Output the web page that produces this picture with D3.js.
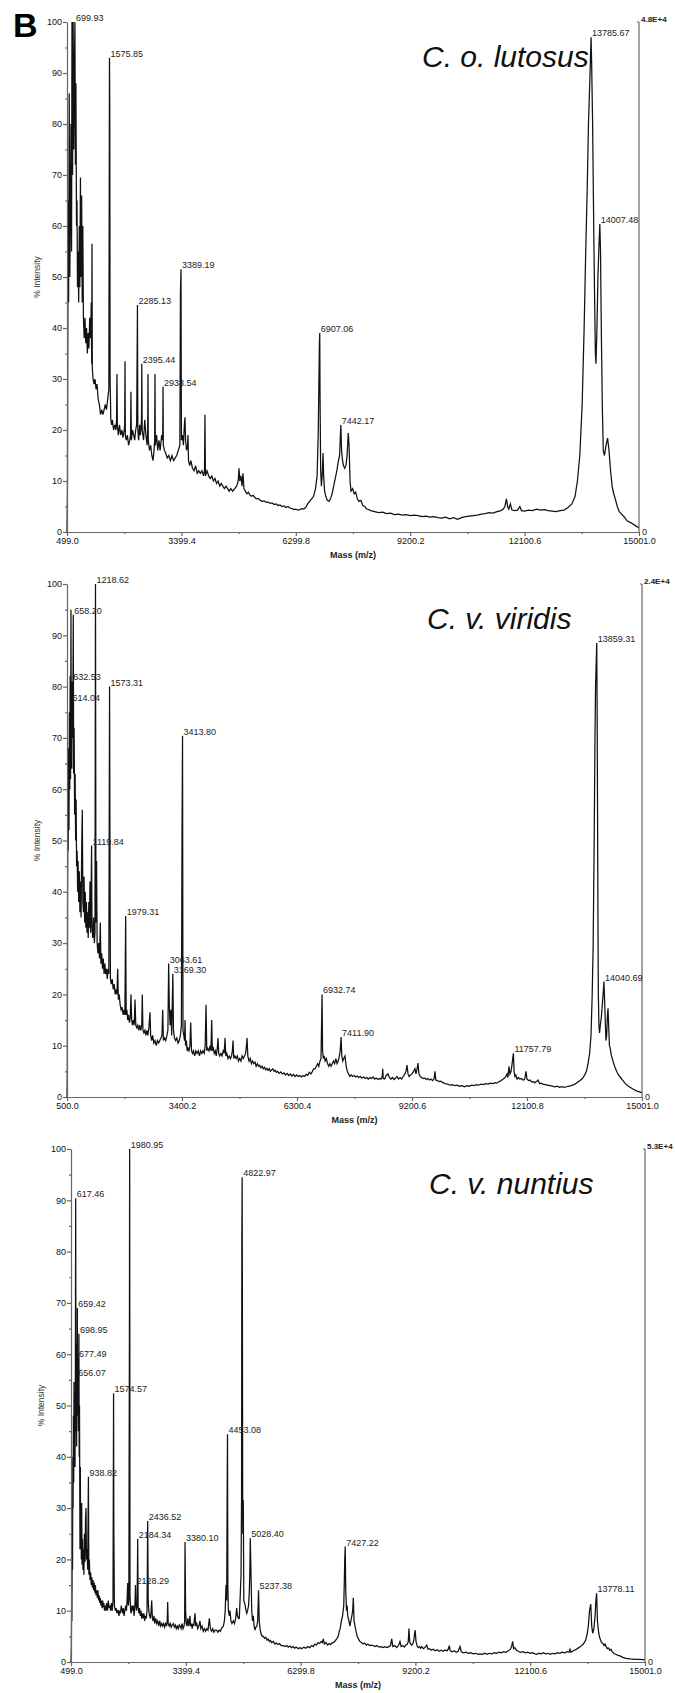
<!DOCTYPE html>
<html><head><meta charset="utf-8">
<script src="https://cdn.jsdelivr.net/npm/d3@7"></script>
<style>
body{margin:0;background:#fff;}
svg text{font-family:"Liberation Sans",Arial,Helvetica,sans-serif;}
</style></head><body>
<svg id="chart" width="675" height="1693"></svg>
<script>
// ---------------- DATA ----------------
const titles = ["C. o. lutosus", "C. v. viridis", "C. v. nuntius"];
const rightAxisLabels = ["4.8E+4", "2.4E+4", "5.3E+4"];
const yTicks = [0,10,20,30,40,50,60,70,80,90,100];
const yMinorTicks = [5,15,25,35,45,55,65,75,85,95];
const xTicksLutosus = [499.0, 3399.4, 6299.8, 9200.2, 12100.6, 15001.0];
const xTicksViridis = [500.0, 3400.2, 6300.4, 9200.6, 12100.8, 15001.0];
const xTicksNuntius = [499.0, 3399.4, 6299.8, 9200.2, 12100.6, 15001.0];

// [m/z, % intensity]
const lutosusSpectrum = [
[499,0],[510,8],[520,40],[530,65],[540,45],[555,86],[570,50],[585,62],[600,80],[615,55],[625,100],[640,70],[655,100],[670,75],[685,90],[699.93,100],[712,72],[725,88],[740,60],[752,65],[765,48],[780,55],[795,45],[810,60],[825,48],[840,69.5],[855,50],[870,66],[885,45],[900,60],[915,42],[935,38],[955,42],[975,37],[995,40],[1015,35],[1035,39],[1055,36],[1075,42],[1095,38],[1115,45],[1125,33],[1133,56.5],[1141,32],[1160,30],[1185,29],[1210,30],[1235,28],[1260,29],[1290,26],[1320,25],[1350,23],[1380,24],[1410,23],[1440,24],[1470,25],[1500,24],[1530,26],[1560,28],[1575.85,93],[1583,83],[1592,30],[1610,22],[1630,21],[1650,22],[1680,20],[1710,21],[1740,20],[1755,22],[1766,31],[1775,21],[1800,19],[1830,21],[1860,19],[1890,20],[1920,18.5],[1950,20],[1962,21],[1970,33.5],[1978,19],[2000,18],[2030,19],[2060,17],[2090,18],[2110,19],[2120,27.5],[2130,18],[2160,20],[2190,19],[2215,18],[2240,20],[2265,21],[2285.13,44.5],[2295,20],[2315,18],[2340,21],[2360,19],[2380,21],[2388,22],[2395.44,33],[2405,20],[2440,18],[2470,22],[2500,19],[2530,17],[2545,20],[2552,31],[2560,18],[2590,16],[2620,17],[2650,15],[2680,14],[2705,16],[2722,18],[2730,31],[2738,17],[2770,19],[2800,16],[2830,18],[2860,16],[2900,19],[2925,18],[2933.54,28.5],[2941,17],[2970,16],[3000,15.5],[3040,14.5],[3080,15],[3120,14],[3160,15],[3200,14],[3240,14.5],[3280,15],[3320,16],[3360,17],[3375,47],[3389.19,51.5],[3400,18],[3425,19],[3450,17],[3475,21],[3490,22.5],[3505,18],[3530,16],[3555,17],[3566,19],[3580,14],[3610,13],[3640,14],[3680,12.5],[3720,12],[3760,13],[3800,11.5],[3840,12],[3880,11.5],[3920,12],[3960,11],[3985,12],[3997,23],[4009,11],[4050,12],[4090,11],[4130,10.5],[4170,11],[4210,10],[4250,10.5],[4290,9.5],[4330,10],[4370,9],[4410,9.5],[4450,9],[4490,8.5],[4530,9],[4570,8.5],[4610,8],[4650,8.5],[4700,8],[4750,8.5],[4800,9],[4840,10],[4860,12.5],[4880,10],[4910,11],[4935,9],[4960,11.5],[4985,8.5],[5020,8],[5060,7.5],[5100,7.8],[5140,7.2],[5180,7],[5220,7.2],[5260,6.8],[5300,6.5],[5350,6.6],[5400,6.2],[5450,6],[5500,6.1],[5550,5.8],[5600,5.9],[5650,5.6],[5700,5.7],[5750,5.4],[5800,5.5],[5850,5.2],[5900,5.3],[5950,5],[6000,5.1],[6050,4.8],[6100,5],[6150,4.7],[6200,4.6],[6250,4.4],[6300,4.5],[6350,4.3],[6400,4.4],[6450,4.6],[6500,4.5],[6550,4.8],[6600,5.5],[6650,6],[6700,6.5],[6750,7],[6800,8.5],[6840,11],[6870,20],[6898,37],[6907.06,39],[6915,26],[6930,12],[6950,9],[6975,12],[6990,15.5],[7005,11],[7030,8],[7060,7],[7100,6.2],[7140,6],[7180,6.5],[7220,7.5],[7260,9],[7300,10.5],[7340,12],[7370,13.5],[7410,15],[7442.17,21],[7460,16],[7485,14],[7510,13],[7540,12.5],[7570,13],[7600,15],[7630,19.4],[7650,17],[7675,10],[7700,8],[7740,8.5],[7780,7.5],[7820,7.8],[7860,6.5],[7900,6],[7950,6.2],[8000,5.2],[8050,5],[8100,4.5],[8150,4.4],[8200,4.2],[8300,4],[8400,3.8],[8500,3.9],[8600,3.6],[8700,3.7],[8800,3.4],[8900,3.5],[9000,3.3],[9100,3.4],[9200,3.2],[9300,3.3],[9400,3.2],[9500,3],[9600,3.1],[9700,2.9],[9800,3],[9900,2.8],[10000,2.7],[10100,2.9],[10200,2.6],[10300,2.8],[10400,2.5],[10500,2.8],[10600,3],[10700,3.1],[10800,3.2],[10900,3.3],[11000,3.5],[11100,3.6],[11200,3.8],[11300,3.7],[11400,4],[11500,4.2],[11560,4.5],[11600,5],[11640,6.5],[11670,5],[11700,4.5],[11740,5.5],[11780,4.3],[11850,4.2],[11920,4.3],[11980,5],[12020,4.2],[12100,4.1],[12200,4.3],[12300,4.2],[12400,4.5],[12500,4.3],[12600,4.4],[12700,4.2],[12800,4.1],[12900,4],[13000,4.2],[13100,4.3],[13200,4.8],[13300,5.5],[13380,7],[13440,10],[13500,15],[13560,25],[13610,40],[13650,55],[13690,68],[13720,80],[13760,90],[13785.67,97],[13800,92],[13825,80],[13860,55],[13895,35],[13910,33],[13935,40],[13960,50],[13985,56],[14007.48,60.4],[14025,55],[14045,40],[14070,25],[14095,16],[14125,15],[14165,17],[14205,18.4],[14240,16],[14280,12],[14320,9],[14360,7.5],[14400,6.5],[14450,5],[14500,4],[14560,3.5],[14620,3],[14700,2.2],[14800,1.8],[14900,1.3],[15001,0.8]
];
const lutosusPeaks = [
[699.93,100],[1575.85,93],[2285.13,44.5],[2395.44,33],[2933.54,28.5],[3389.19,51.5],[6907.06,39],[7442.17,21],[13785.67,97],[14007.48,60.4]
];

const viridisSpectrum = [
[500,0],[508,5],[515,40],[522,55],[530,48],[540,68],[550,52],[560,75],[570,60],[580,82],[590,62],[600,95],[608,70],[614.04,77],[622,64],[632.53,81],[645,70],[658.2,94],[668,63],[680,72],[692,55],[705,63],[718,50],[730,58],[742,45],[755,48],[768,40],[780,46],[795,38],[810,44],[825,36],[840,42],[855,35],[870,48],[886,56],[900,38],[915,36],[930,43],[945,34],[960,40],[975,33],[990,38],[1005,32],[1020,36],[1035,31],[1050,38],[1065,33],[1080,42],[1095,32],[1108,40],[1119.84,49],[1130,33],[1150,31],[1170,35],[1190,30],[1205,32],[1218.62,100],[1230,34],[1245,46],[1260,30],[1280,28],[1300,30],[1320,27],[1340,34],[1355,26],[1375,28],[1395,25],[1415,27],[1435,24],[1455,26],[1475,24],[1495,25],[1515,23],[1535,25],[1555,24],[1573.31,80],[1585,44],[1595,23],[1615,22],[1640,23],[1665,21],[1690,22],[1715,20],[1740,21],[1760,20],[1778,25],[1795,19],[1815,20],[1840,18],[1865,17],[1890,17.5],[1915,16],[1940,17],[1960,16],[1979.31,35.3],[1992,16],[2010,17],[2030,15],[2050,16],[2075,14.5],[2095,15.5],[2114,20],[2130,15],[2150,14],[2170,15],[2195,14],[2215,19],[2235,14],[2260,13.5],[2285,14],[2310,13],[2335,14],[2360,13],[2385,14],[2399,20],[2415,13],[2440,12.5],[2465,13],[2490,12],[2515,13],[2540,12],[2565,13.5],[2593,16.5],[2610,12],[2635,11],[2660,12],[2690,10.5],[2720,11],[2750,10],[2780,11],[2810,10.5],[2840,11],[2870,11.5],[2895,12],[2913,17],[2930,11],[2960,11.5],[2990,11],[3020,12],[3045,13],[3063.61,26],[3080,18],[3100,14],[3120,17],[3140,12],[3169.3,24],[3185,13],[3210,11.5],[3240,11],[3270,11.5],[3300,10.5],[3330,11],[3360,12],[3385,14],[3400,50],[3413.8,70.4],[3425,13],[3445,12],[3465,11],[3476,15],[3490,10],[3510,11],[3530,9],[3550,9.5],[3575,9],[3600,10],[3620,14.5],[3640,9],[3665,8.5],[3690,9],[3720,8],[3750,9],[3780,8.5],[3810,9],[3840,8],[3870,9],[3900,8.5],[3930,9],[3960,8.5],[3985,10],[4006,18],[4025,9],[4050,9.5],[4080,9],[4110,10],[4130,9],[4149,15],[4165,9],[4190,9.5],[4215,8.5],[4240,9],[4265,8],[4290,9.5],[4308,11.5],[4325,8.5],[4350,8],[4380,8.5],[4410,8],[4440,9],[4465,8.5],[4485,11.5],[4505,8],[4530,8.5],[4560,7.5],[4590,8],[4620,7.5],[4650,8],[4670,9],[4687,11],[4705,7.5],[4735,8],[4765,7.5],[4795,8],[4825,7],[4855,7.5],[4885,7],[4915,8],[4945,7.5],[4975,8],[5005,8.5],[5025,10],[5040,11.5],[5060,8],[5090,7],[5120,7.5],[5150,6.5],[5180,7],[5210,6.5],[5240,6.8],[5270,6],[5300,6.5],[5330,6],[5360,6.2],[5390,5.7],[5420,6],[5450,5.5],[5480,5.8],[5510,5.3],[5540,5.6],[5570,5.2],[5600,5.5],[5630,5],[5660,5.3],[5690,5.5],[5720,5],[5750,5.2],[5780,4.8],[5810,5],[5850,4.6],[5890,4.9],[5930,4.5],[5970,4.7],[6010,4.3],[6050,4.6],[6090,4.2],[6130,4.5],[6170,4.1],[6210,4.4],[6250,4],[6290,4.3],[6330,4],[6370,4.2],[6410,3.9],[6450,4.2],[6490,4],[6530,4.4],[6570,4.2],[6610,4.8],[6650,4.5],[6690,5],[6720,5.5],[6755,5.5],[6790,6],[6820,6.5],[6850,6],[6880,7],[6905,7.5],[6920,14],[6932.74,20],[6945,9],[6965,7.5],[6985,8],[7010,7],[7040,7.5],[7070,6.5],[7100,6],[7130,6.5],[7160,6],[7190,6.5],[7220,7],[7250,6.5],[7280,7.5],[7310,6.5],[7340,7],[7370,8],[7390,9],[7411.9,11.7],[7430,8],[7455,7],[7480,7.5],[7511,8],[7540,6],[7570,5],[7600,4.5],[7637,4],[7670,4.3],[7700,4],[7740,4.2],[7780,3.9],[7820,4.1],[7860,3.8],[7900,4],[7940,3.7],[7980,3.9],[8020,3.6],[8060,3.8],[8100,3.5],[8140,3.8],[8180,3.6],[8220,3.9],[8260,3.5],[8300,3.7],[8340,3.4],[8380,3.6],[8420,3.5],[8450,4],[8462,5.5],[8475,3.6],[8510,3.5],[8550,4.2],[8596,4.5],[8630,3.8],[8670,3.5],[8710,3.8],[8750,3.4],[8790,3.7],[8823,4],[8860,3.5],[8900,3.8],[8940,3.5],[8980,4],[9020,4.5],[9050,5],[9075,6.2],[9100,4.5],[9130,4],[9160,4.3],[9201,4.5],[9240,5],[9276,5.5],[9300,4.5],[9330,5.5],[9352,6.6],[9375,4.5],[9410,4],[9440,3.8],[9478,3.6],[9520,3.7],[9560,3.4],[9600,3.6],[9640,3.3],[9680,3.5],[9720,3.2],[9760,3.6],[9781,5],[9800,3.3],[9840,3.2],[9880,3],[9920,3.1],[9983,2.8],[10040,2.6],[10100,2.5],[10160,2.3],[10220,2.4],[10280,2.2],[10340,2.3],[10400,2.1],[10460,2.2],[10520,2],[10580,2.2],[10640,2.1],[10700,2.3],[10760,2.2],[10820,2.4],[10880,2.3],[10940,2.5],[11000,2.4],[11060,2.6],[11120,2.5],[11180,2.7],[11240,2.6],[11300,2.8],[11345,2.7],[11400,3],[11450,3.2],[11500,3.5],[11550,3.8],[11597,4.5],[11620,3.8],[11647,6],[11670,4.5],[11700,5],[11725,6.5],[11757.79,8.5],[11775,5],[11795,4],[11820,4.3],[11849,3.5],[11880,3.8],[11920,3.5],[11960,3.6],[12000,3.3],[12040,3.4],[12076,5],[12100,3.5],[12140,3.2],[12177,3.3],[12220,2.9],[12260,3],[12300,2.8],[12340,3],[12379,3.3],[12420,2.6],[12460,2.7],[12500,2.5],[12560,2.4],[12620,2.3],[12682,2.2],[12740,2.1],[12800,2],[12860,2.1],[12920,1.9],[12980,2],[13040,1.9],[13100,2],[13160,2.1],[13220,2.2],[13280,2.4],[13330,2.6],[13380,2.9],[13440,3.2],[13500,3.6],[13550,4.2],[13600,5],[13640,6.5],[13680,8.5],[13715,12],[13745,20],[13770,30],[13795,50],[13815,70],[13830,80],[13859.31,88.5],[13870,75],[13880,55],[13890,35],[13900,20],[13915,14],[13930,12.5],[13950,14],[13975,15.5],[14000,18],[14020,20],[14040.69,22.5],[14062,18],[14078,14],[14093,11],[14110,12],[14130,16],[14144,17.3],[14160,14],[14180,10],[14200,9.5],[14230,8],[14270,7],[14310,6],[14360,5],[14410,4.3],[14460,3.8],[14520,3.2],[14580,2.6],[14640,2.2],[14700,1.9],[14780,1.5],[14860,1.2],[14940,1],[15001,0.8]
];
const viridisPeaks = [
[658.20,94],[632.53,81],[614.04,77],[1218.62,100],[1573.31,80],[1119.84,49],[1979.31,35.3],[3063.61,26],[3169.30,24],[3413.80,70.4],[6932.74,20],[7411.90,11.7],[11757.79,8.5],[13859.31,88.5],[14040.69,22.5]
];

const nuntiusSpectrum = [
[499,0],[508,3],[515,12],[522,8],[530,25],[538,18],[545,40],[552,30],[560,48],[568,35],[575,54.6],[583,40],[592,52],[600,38],[608,50],[617.46,90.4],[625,45],[633,58],[641,42],[649,62],[656.07,55.5],[659.42,69],[665,48],[672,56],[677.49,59.3],[685,45],[692,52],[698.95,64],[706,40],[714,50],[722,30],[726,22],[735,38],[742,24],[750,30],[760,20],[769,31],[778,19],[790,24],[800,18],[812,22],[825,17],[838,25],[853,19.5],[866,28],[878,30],[890,20],[905,22],[920,18],[938.82,36.1],[950,17],[962,20],[979,16],[995,17.5],[1010,15],[1025,16.5],[1040,14.5],[1055,16],[1070,14],[1085,15.5],[1100,13.5],[1115,15],[1130,13],[1148,14],[1165,12.5],[1180,14],[1195,12],[1210,13],[1225,11.5],[1240,12.5],[1255,11],[1270,12],[1285,10.5],[1300,12],[1315,10.7],[1330,11.5],[1345,10],[1360,11],[1380,10],[1400,11.5],[1420,10],[1440,12],[1460,10.5],[1484,11],[1500,10],[1520,11.5],[1540,10],[1560,12],[1574.57,52.4],[1582,25],[1595,11],[1620,10],[1640,10.5],[1660,9.5],[1680,10],[1694,10],[1710,9],[1730,10],[1750,9.5],[1770,11],[1790,10],[1810,9.5],[1820,10.5],[1840,9],[1860,10],[1880,11],[1900,10],[1915,12],[1931,15.4],[1945,11],[1960,12],[1975,64],[1980.95,100],[1990,13],[2005,10],[2020,9.5],[2040,11],[2055,10],[2073,11],[2090,9],[2105,10],[2118,12],[2128.29,15],[2140,11],[2155,10],[2170,11],[2184.34,24],[2195,11],[2210,9.5],[2230,10.5],[2250,9],[2268,10],[2285,8.5],[2300,9.5],[2320,8.5],[2340,9.5],[2360,8],[2380,9],[2400,8.5],[2420,10],[2436.52,27.5],[2450,12],[2465,10],[2485,9],[2505,8.5],[2520,9.5],[2538,12],[2555,8.5],[2575,8],[2595,9],[2615,7.5],[2640,8.5],[2664,7.5],[2690,8],[2715,7],[2740,8],[2765,7],[2790,7.5],[2815,7],[2840,7.5],[2865,6.8],[2890,7.5],[2915,7],[2930,8],[2942,11.7],[2955,7.5],[2980,7],[3005,7.5],[3030,6.8],[3055,7.2],[3083,7.5],[3110,6.8],[3135,7.2],[3160,6.5],[3185,7],[3210,6.5],[3235,7.2],[3253,7],[3280,6.5],[3305,7.5],[3330,6.5],[3355,7],[3370,8],[3380.10,23.4],[3395,10],[3410,7.5],[3430,7],[3450,8.5],[3475,7],[3490,8],[3505,9],[3520,7],[3540,7.5],[3560,6.5],[3580,7.5],[3600,7],[3632,9.5],[3650,7],[3675,7.5],[3700,6.5],[3730,7],[3758,8],[3780,6.5],[3810,7],[3840,6],[3870,6.5],[3900,6],[3930,6.5],[3960,6.2],[3994,8.5],[4020,6.5],[4050,6],[4080,6.5],[4110,5.8],[4140,6.2],[4180,6.2],[4210,5.8],[4240,6.2],[4270,6],[4300,6.5],[4325,6.8],[4348,7],[4375,8],[4395,10],[4415,15],[4432,12],[4445,34],[4453.08,44.4],[4462,15],[4475,10],[4500,9],[4516,10],[4540,8],[4565,7.5],[4585,7.8],[4600,8],[4630,7.5],[4660,8.5],[4685,10.5],[4705,9],[4730,8.5],[4751,8.5],[4775,13],[4795,17],[4808,32],[4815,82],[4822.97,94.5],[4830,66],[4838,25],[4852,31.6],[4865,12],[4900,11],[4920,10],[4939,9.5],[4960,10],[4985,11],[5005,14],[5018,18],[5028.40,24.1],[5045,18],[5065,10],[5085,8],[5106,9],[5125,7],[5148,6.2],[5170,6.8],[5195,7],[5215,8],[5237.38,14],[5255,8],[5275,6.5],[5300,5.5],[5330,5],[5358,5],[5390,4.6],[5420,4.8],[5450,4.3],[5480,4.5],[5510,4],[5540,4.2],[5570,3.8],[5611,4],[5650,3.5],[5690,3.7],[5730,3.4],[5770,3.6],[5810,3.2],[5863,3.2],[5910,3],[5950,3.2],[5990,2.9],[6030,3.1],[6070,2.8],[6110,3],[6150,2.7],[6190,2.9],[6240,2.6],[6285,2.8],[6330,2.6],[6380,2.9],[6430,2.7],[6480,3],[6530,2.8],[6580,3.2],[6621,3],[6660,3.5],[6700,3.3],[6740,3.8],[6780,3.6],[6820,4],[6850,3.8],[6874,4.5],[6900,3.5],[6940,3.8],[6980,3.3],[7020,3.6],[7060,3.4],[7100,3.8],[7126,3.8],[7160,4],[7212,4.5],[7250,5],[7278,6],[7300,6.5],[7330,8],[7360,9],[7390,11],[7405,16],[7415,20],[7427.22,22.5],[7440,14],[7460,10],[7475,11],[7490,9],[7520,8],[7545,7],[7570,8],[7595,9],[7615,10],[7632,12.5],[7650,8],[7674,7],[7700,6],[7730,5],[7760,4.5],[7800,4],[7840,3.8],[7880,3.5],[7920,3.7],[7960,3.3],[8000,3.5],[8040,3.2],[8080,3.3],[8137,3.2],[8180,3],[8230,3.2],[8280,2.9],[8330,3],[8380,2.8],[8430,3],[8480,2.8],[8530,3],[8570,3.2],[8601,4.5],[8630,3],[8680,3.2],[8730,2.8],[8780,3.3],[8811,4],[8840,3],[8880,3.2],[8920,2.9],[8960,3.3],[9000,3.5],[9020,4],[9038,6.5],[9055,4],[9080,3.5],[9110,3.3],[9140,3.6],[9165,4.5],[9180,5.5],[9195,6.2],[9215,4],[9240,3.2],[9270,2.8],[9300,3],[9330,2.7],[9360,3],[9400,2.6],[9440,2.8],[9486,3.3],[9520,2.5],[9560,2.6],[9600,2.3],[9650,2.5],[9700,2.2],[9750,2.4],[9800,2.1],[9850,2.3],[9900,2.1],[9950,2.3],[10000,2.2],[10030,2.5],[10057,3.2],[10080,2.2],[10130,2],[10180,2.2],[10230,1.9],[10280,2.1],[10327,3],[10360,2],[10420,1.8],[10480,1.9],[10540,1.7],[10600,1.8],[10660,1.6],[10720,1.7],[10780,1.5],[10832,1.6],[10890,1.5],[10950,1.7],[11010,1.5],[11070,1.7],[11130,1.6],[11190,1.8],[11254,1.7],[11310,1.9],[11370,1.8],[11430,2],[11490,1.9],[11550,2.2],[11600,2.5],[11630,3],[11658,4],[11680,2.6],[11710,2.8],[11759,2.3],[11800,2.1],[11860,1.9],[11920,2],[11980,1.8],[12040,1.9],[12100,1.7],[12160,1.8],[12220,1.6],[12264,1.5],[12320,1.7],[12380,1.6],[12432,1.8],[12490,1.6],[12550,1.7],[12610,1.5],[12670,1.7],[12730,1.6],[12790,1.8],[12850,1.7],[12910,1.9],[12970,1.8],[13040,2],[13080,1.9],[13106,2.5],[13130,1.9],[13190,2.2],[13250,2.4],[13310,2.7],[13370,3],[13443,3.5],[13500,4.2],[13540,5.5],[13569,7],[13600,10],[13630,11.3],[13655,7],[13680,5.6],[13710,6.5],[13740,9],[13760,12],[13778.11,13.4],[13800,8],[13825,6],[13848,5],[13880,4.2],[13907,3.8],[13940,3.6],[13965,3.2],[13990,3.5],[14020,3],[14050,2.6],[14080,2.7],[14110,2.3],[14140,2.5],[14170,2],[14210,1.7],[14260,1.5],[14320,1.3],[14370,1.2],[14440,0.9],[14520,0.7],[14622,0.6],[14750,0.5],[14880,0.5],[15001,0.4]
];
const nuntiusPeaks = [
[617.46,90.4],[659.42,69],[698.95,64],[677.49,59.3],[656.07,55.5],[1980.95,100],[1574.57,52.4],[938.82,36.1],[2436.52,27.5],[2184.34,24],[2128.29,15],[3380.10,23.4],[4453.08,44.4],[4822.97,94.5],[5028.40,24.1],[5237.38,14],[7427.22,22.5],[13778.11,13.4]
];

// ---------------- LAYOUT ----------------
const panelData = [
  {spectrum: lutosusSpectrum, peaks: lutosusPeaks, xTicks: xTicksLutosus},
  {spectrum: viridisSpectrum, peaks: viridisPeaks, xTicks: xTicksViridis},
  {spectrum: nuntiusSpectrum, peaks: nuntiusPeaks, xTicks: xTicksNuntius}
];
const geom = [
  {left: 67, right: 639, top: 22, bottom: 532, titleX: 422},
  {left: 67, right: 642, top: 584, bottom: 1097, titleX: 427},
  {left: 71, right: 645, top: 1149, bottom: 1662, titleX: 429}
];

const svg = d3.select("#chart");
svg.append("rect").attr("width",675).attr("height",1693).attr("fill","#fff");

svg.append("text").attr("x",13).attr("y",37)
  .attr("font-size",34).attr("font-weight","bold").attr("fill","#000").text("B");

const fmtTick = d3.format(".1f");
const fmtPeak = d3.format(".2f");
const axisColor = "#666";

panelData.forEach((p, i) => {
  const g = geom[i];
  const xt = p.xTicks;
  const x = d3.scaleLinear().domain([xt[0], xt[xt.length-1]]).range([g.left, g.right]);
  const y = d3.scaleLinear().domain([0, 100]).range([g.bottom, g.top]);
  const gp = svg.append("g");

  // title
  gp.append("text").attr("x", g.titleX).attr("y", g.top + 45)
    .attr("font-size", 30).attr("font-style","italic").attr("fill","#111")
    .text(titles[i]);

  // spectrum
  const line = d3.line().x(d => x(d[0])).y(d => y(d[1]));
  gp.append("path").datum(p.spectrum)
    .attr("d", line).attr("fill","none").attr("stroke","#111")
    .attr("stroke-width",1.25).attr("stroke-linejoin","miter");

  // x axis
  const xMinor = d3.pairs(xt).map(([a,b]) => (a+b)/2);
  gp.append("g").attr("transform",`translate(0,${g.bottom})`)
    .call(d3.axisBottom(x).tickValues(xt).tickFormat(fmtTick).tickSize(4).tickPadding(2).tickSizeOuter(0));
  gp.append("g").attr("transform",`translate(0,${g.bottom})`)
    .call(d3.axisBottom(x).tickValues(xMinor).tickFormat("").tickSize(2).tickSizeOuter(0))
    .select(".domain").remove();

  // y axis
  gp.append("g").attr("transform",`translate(${g.left},0)`)
    .call(d3.axisLeft(y).tickValues(yTicks).tickSize(4).tickPadding(1).tickSizeOuter(0));
  gp.append("g").attr("transform",`translate(${g.left},0)`)
    .call(d3.axisLeft(y).tickValues(yMinorTicks).tickFormat("").tickSize(2).tickSizeOuter(0))
    .select(".domain").remove();

  gp.selectAll(".domain, .tick line").attr("stroke", axisColor).attr("stroke-width",1.2);
  gp.selectAll(".tick text").attr("font-size", 9).attr("fill","#111")
    .attr("font-family",'"Liberation Sans",Arial,sans-serif');

  // right axis
  gp.append("line").attr("x1",g.right).attr("x2",g.right).attr("y1",y(100)).attr("y2",y(0))
    .attr("stroke",axisColor).attr("stroke-width",1.2);
  gp.append("line").attr("x1",g.right-2).attr("x2",g.right).attr("y1",y(100)).attr("y2",y(100))
    .attr("stroke",axisColor);
  gp.append("text").attr("x",g.right+2).attr("y",y(100)-0.5)
    .attr("font-size",8).attr("font-weight","bold").attr("fill","#222").text(rightAxisLabels[i]);
  gp.append("text").attr("x",g.right+3).attr("y",y(0)+3)
    .attr("font-size",9).attr("fill","#222").text("0");

  // axis titles
  gp.append("text").attr("x",(g.left+g.right)/2).attr("y",g.bottom+26)
    .attr("text-anchor","middle").attr("font-size",9).attr("font-weight","bold").attr("fill","#222")
    .text("Mass (m/z)");
  gp.append("text")
    .attr("transform",`translate(${g.left-27},${(g.top+g.bottom)/2}) rotate(-90)`)
    .attr("text-anchor","middle").attr("font-size",8.5).attr("fill","#333")
    .text("% Intensity");

  // peak labels
  gp.selectAll(".pk").data(p.peaks).enter().append("text")
    .attr("x", d => x(d[0]) + 1).attr("y", d => y(d[1]) - 1)
    .attr("font-size", 9).attr("fill","#222")
    .text(d => fmtPeak(d[0]));
});
</script>
</body></html>
